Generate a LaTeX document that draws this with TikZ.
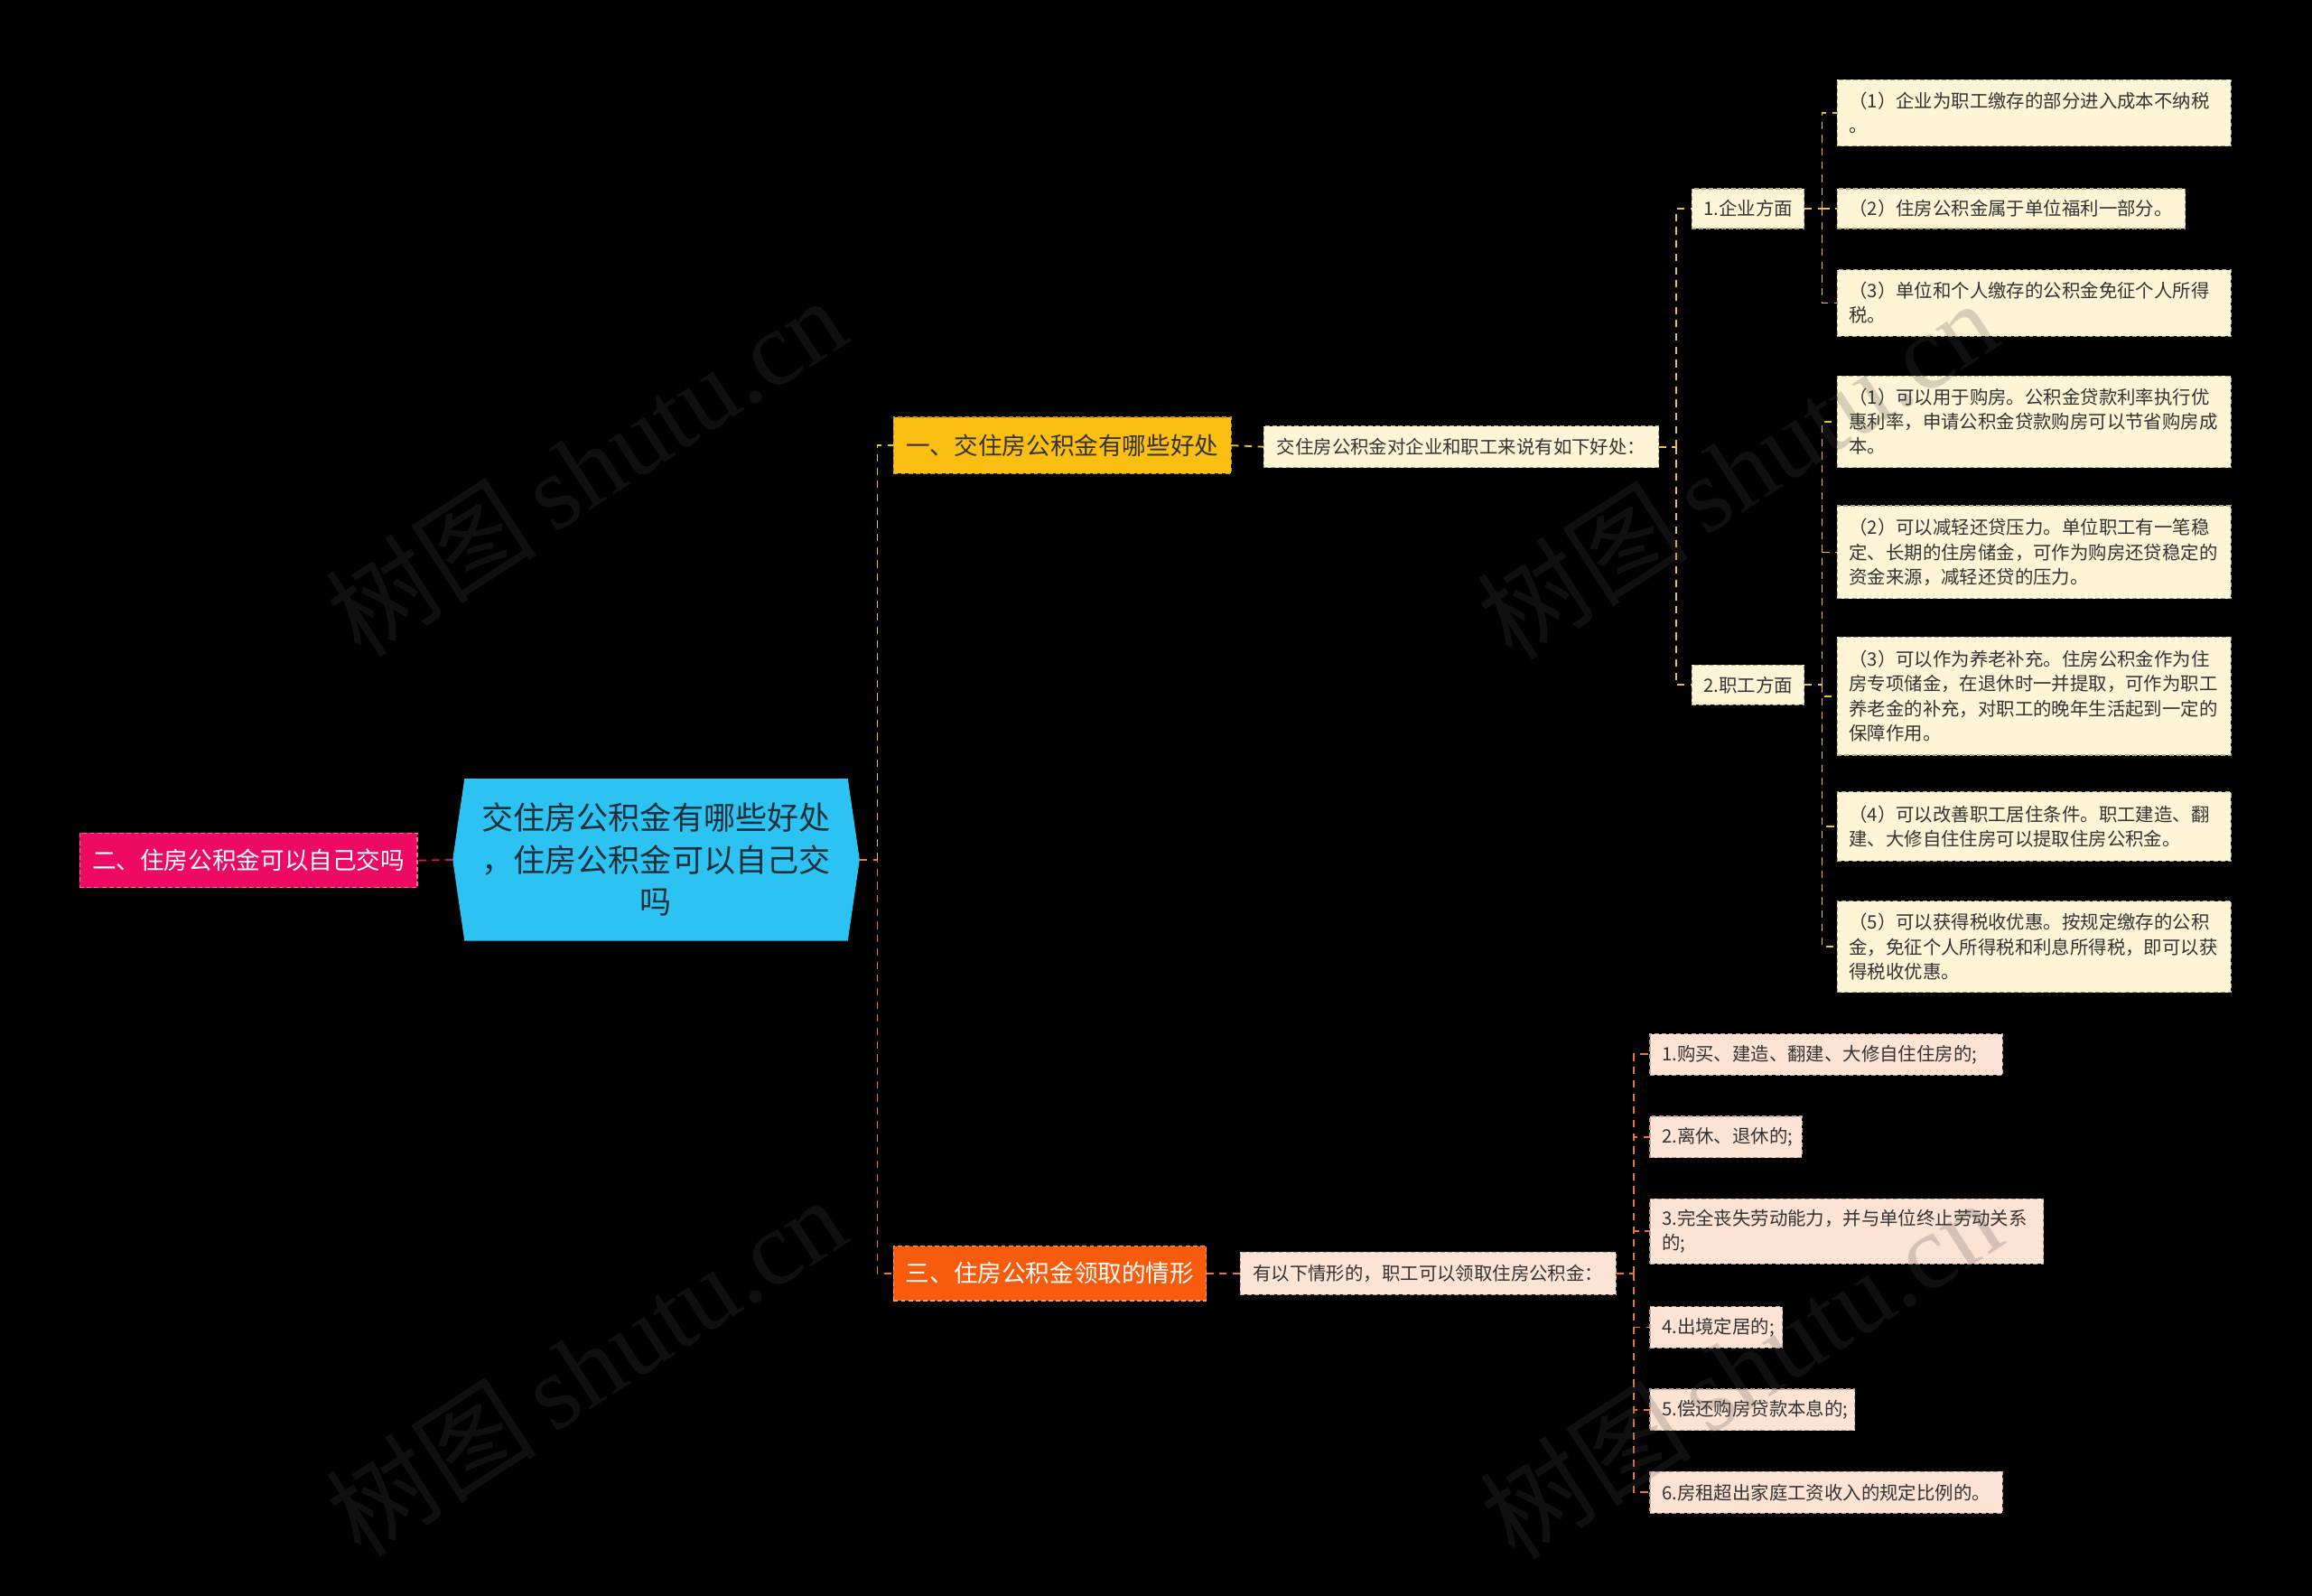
\documentclass[tikz,border=0pt]{standalone}
\usepackage{fontspec}
\setmainfont{Noto Sans CJK SC}
\newfontfamily\wmcjk{Noto Sans CJK SC}
\newfontfamily\wmserif{Liberation Serif}
\usetikzlibrary{calc}
\definecolor{rootc}{HTML}{2CC3F2}
\definecolor{roottxt}{HTML}{1F2E38}
\definecolor{pinkc}{HTML}{EC0A62}
\definecolor{pinkd}{HTML}{FF6A9E}
\definecolor{yelc}{HTML}{FBBE12}
\definecolor{yeld}{HTML}{C99500}
\definecolor{orac}{HTML}{F95B0C}
\definecolor{orad}{HTML}{FF9A60}
\definecolor{creamc}{HTML}{FEF4D6}
\definecolor{creamd}{HTML}{B7A67A}
\definecolor{peachc}{HTML}{FDE3D4}
\definecolor{peachd}{HTML}{C8A08E}
\definecolor{yline}{HTML}{F0C232}
\definecolor{oline}{HTML}{EC7436}
\definecolor{pline}{HTML}{E01068}
\definecolor{txt}{HTML}{333333}
\newcommand\mybox[7]{%
  \pgfmathsetmacro\mbw{#4-#2}\pgfmathsetmacro\mbh{#5-#3}\pgfmathsetmacro\mtw{#4-#2-16}%
  \node[#6, minimum width=\mbw pt, minimum height=\mbh pt, text width=\mtw pt, align=left] (#1) at ({(#2+#4)/2},{(#3+#5)/2}) {#7};}
\newcommand\onebox[7]{%
  \pgfmathsetmacro\mbw{#4-#2}\pgfmathsetmacro\mbh{#5-#3}%
  \node[#6, minimum width=\mbw pt, minimum height=\mbh pt, align=center] (#1) at ({(#2+#4)/2},{(#3+#5)/2}) {#7};}
\begin{document}
\begin{tikzpicture}[x=1pt,y=-1pt,
  box/.style={rectangle, inner xsep=8pt, inner ysep=0pt, outer sep=0pt, dash pattern=on 3pt off 2pt, line width=0.7pt},
  leafy/.style={box, fill=creamc, draw=creamd, text=txt, font=\fontsize{12.5}{16.6}\selectfont},
  leafo/.style={box, fill=peachc, draw=peachd, text=txt, font=\fontsize{12.5}{16.6}\selectfont},
  main/.style={box, font=\fontsize{16.3}{20}\selectfont},
  conn/.style={line width=1.1pt, dash pattern=on 5pt off 4pt},
  yl/.style={conn, draw=yline},
  ol/.style={conn, draw=oline},
  pl/.style={conn, draw=pline},
  wm/.style={text=gray!60!black, opacity=0.22, rotate=33, font=\fontsize{72}{80}\selectfont}
]
\fill[black] (0,0) rectangle (1568,1082);
\useasboundingbox (0,0) rectangle (1568,1082);

% root
\fill[rootc] (307,583) -- (315,528) -- (575,528) -- (583,583) -- (575,638) -- (315,638) -- cycle;
\node[minimum width=276pt, minimum height=110pt, inner sep=0pt, outer sep=0pt, align=center, text=roottxt,
  font=\fontsize{21.5}{28.5}\selectfont] (root) at (445,583)
  {交住房公积金有哪些好处\\，住房公积金可以自己交\\吗};

% level 1
\onebox{n2}{54}{565}{283}{602}{main, fill=pinkc, draw=pinkd, text=white}{二、住房公积金可以自己交吗}
\onebox{n1}{606}{283}{835}{321}{main, fill=yelc, draw=yeld, text=txt}{一、交住房公积金有哪些好处}
\onebox{n3}{606}{845}{818}{882}{main, fill=orac, draw=orad, text=white}{三、住房公积金领取的情形}

% level 2
\onebox{c1}{857}{289}{1125}{317}{leafy}{交住房公积金对企业和职工来说有如下好处：}
\onebox{c3}{841}{849}{1096}{878}{leafo}{有以下情形的，职工可以领取住房公积金：}

% level 3 (yellow branch)
\onebox{e1}{1149}{128}{1222}{155}{leafy}{1.企业方面}
\onebox{e2}{1149}{451}{1222}{478}{leafy}{2.职工方面}

\mybox{a1}{1246}{54}{1513}{99}{leafy}{（1）企业为职工缴存的部分进入成本不纳税\\。}
\mybox{a2}{1246}{128}{1482}{155}{leafy}{（2）住房公积金属于单位福利一部分。}
\mybox{a3}{1246}{183}{1513}{228}{leafy}{（3）单位和个人缴存的公积金免征个人所得\\税。}

\mybox{b1}{1246}{255}{1513}{317}{leafy}{（1）可以用于购房。公积金贷款利率执行优\\惠利率，申请公积金贷款购房可以节省购房成\\本。}
\mybox{b2}{1246}{343}{1513}{406}{leafy}{（2）可以减轻还贷压力。单位职工有一笔稳\\定、长期的住房储金，可作为购房还贷稳定的\\资金来源，减轻还贷的压力。}
\mybox{b3}{1246}{432}{1513}{512}{leafy}{（3）可以作为养老补充。住房公积金作为住\\房专项储金，在退休时一并提取，可作为职工\\养老金的补充，对职工的晚年生活起到一定的\\保障作用。}
\mybox{b4}{1246}{537}{1513}{584}{leafy}{（4）可以改善职工居住条件。职工建造、翻\\建、大修自住住房可以提取住房公积金。}
\mybox{b5}{1246}{611}{1513}{673}{leafy}{（5）可以获得税收优惠。按规定缴存的公积\\金，免征个人所得税和利息所得税，即可以获\\得税收优惠。}

% level 3 (orange branch)
\mybox{d1}{1119}{701}{1358}{729}{leafo}{1.购买、建造、翻建、大修自住住房的;}
\mybox{d2}{1119}{757}{1222}{785}{leafo}{2.离休、退休的;}
\mybox{d3}{1119}{813}{1386}{857}{leafo}{3.完全丧失劳动能力，并与单位终止劳动关系\\的;}
\mybox{d4}{1119}{886}{1209}{914}{leafo}{4.出境定居的;}
\mybox{d5}{1119}{942}{1258}{970}{leafo}{5.偿还购房贷款本息的;}
\mybox{d6}{1119}{998}{1358}{1026}{leafo}{6.房租超出家庭工资收入的规定比例的。}

% connectors
\draw[pl] (root.west) -- (n2.east);
\coordinate (s0) at ($(root.east)+(12,0)$);
\draw[ol] (root.east) -- (s0) |- (n3.west);
\draw[yl] (s0) |- (n1.west);
\draw[yl] (n1.east) -- (c1.west);
\draw[ol] (n3.east) -- (c3.west);

\coordinate (s1) at ($(c1.east)+(12,0)$);
\draw[yl] (c1.east) -- (s1);
\foreach \t in {e1,e2} \draw[yl] (s1) |- (\t.west);

\coordinate (s2) at ($(e1.east)+(12,0)$);
\draw[yl] (e1.east) -- (s2);
\foreach \t in {a1,a2,a3} \draw[yl] (s2) |- (\t.west);

\coordinate (s3) at ($(e2.east)+(12,0)$);
\draw[yl] (e2.east) -- (s3);
\foreach \t in {b1,b2,b3,b4,b5} \draw[yl] (s3) |- (\t.west);

\coordinate (s4) at ($(c3.east)+(12,0)$);
\draw[ol] (c3.east) -- (s4);
\foreach \t in {d1,d2,d3,d4,d5,d6} \draw[ol] (s4) |- (\t.west);

% watermarks
\node[wm] (w1) at (397,316) {{\wmcjk 树图}\,{\wmserif shutu.cn}};
\node[wm] (w2) at (1178,318) {{\wmcjk 树图}\,{\wmserif shutu.cn}};
\node[wm] (w3) at (397,926) {{\wmcjk 树图}\,{\wmserif shutu.cn}};
\node[wm] (w4) at (1180,928) {{\wmcjk 树图}\,{\wmserif shutu.cn}};
\end{tikzpicture}
\end{document}
